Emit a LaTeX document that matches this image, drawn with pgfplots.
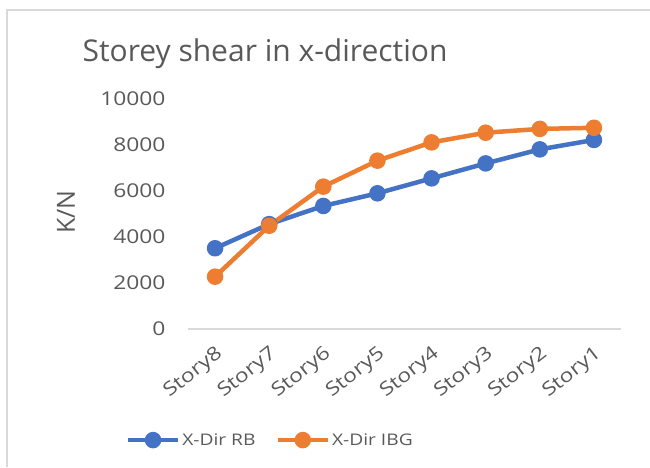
\documentclass[border=0pt]{standalone}
\usepackage{fontspec}
\setmainfont[FakeStretch=1.2]{Open Sans}
\newfontfamily\plainfont{Open Sans}
\usepackage{pgfplots}
\pgfplotsset{compat=1.18}
\definecolor{rbblue}{HTML}{4472C4}
\definecolor{ibgorange}{HTML}{ED7D31}
\definecolor{txtgray}{HTML}{595959}
\definecolor{axgray}{HTML}{D9D9D9}
\definecolor{framegray}{HTML}{D9D9D9}

\begin{document}
\begin{tikzpicture}[x=1pt,y=1pt]
\useasboundingbox (0,0) rectangle (650,467);
% chart frame (left and top edges only are visible)
\draw[framegray, line width=2.5pt] (7,0) -- (7,457) -- (651,457);
\node[font=\plainfont\fontsize{30}{36}\selectfont, text=txtgray] at (265,413) {Storey shear in x-direction};
\node[font=\plainfont\fontsize{25}{30}\selectfont, text=txtgray, rotate=90] at (66,255) {K/N};
\begin{axis}[
    at={(188pt,138pt)}, anchor=south west,
    scale only axis, width=433pt, height=230pt,
    xmin=-0.5, xmax=7.5, ymin=0, ymax=10000,
    xtick={0,...,7},
    xticklabels={Story8,Story7,Story6,Story5,Story4,Story3,Story2,Story1},
    ytick={0,2000,...,10000},
    scaled y ticks=false,
    /pgf/number format/1000 sep={},
    /pgf/number format/assume math mode=true,
    axis x line*=bottom, axis y line*=left,
    x axis line style={axgray, line width=1.5pt},
    y axis line style={draw=none},
    major tick length=0pt,
    yticklabel style={font=\fontsize{19}{22}\selectfont, text=txtgray, xshift=-19pt},
    xticklabel style={font=\fontsize{19}{22}\selectfont, text=txtgray, anchor=east, yshift=-21pt, xshift=8pt, rotate=38},
    legend style={at={(0.19,-0.483)}, anchor=center, draw=none, fill=none,
      legend columns=-1, font=\fontsize{16}{19}\selectfont, text=txtgray,
      /tikz/every even column/.append style={column sep=18pt}},
    legend image code/.code={
      \draw[mark repeat=2, mark phase=2, #1] plot coordinates {(0pt,0pt) (25pt,0pt) (50pt,0pt)};
    },
    every axis plot/.append style={line width=4.5pt, line join=round, mark=*, mark size=6pt, mark options={solid}},
]
\addplot[color=rbblue] coordinates {
  (0,3510) (1,4560) (2,5350) (3,5900) (4,6550) (5,7200) (6,7810) (7,8220)
};
\addlegendentry{X-Dir RB}
\addplot[color=ibgorange] coordinates {
  (0,2275) (1,4490) (2,6190) (3,7320) (4,8115) (5,8535) (6,8700) (7,8750)
};
\addlegendentry{X-Dir IBG}
\end{axis}
\end{tikzpicture}
\end{document}
